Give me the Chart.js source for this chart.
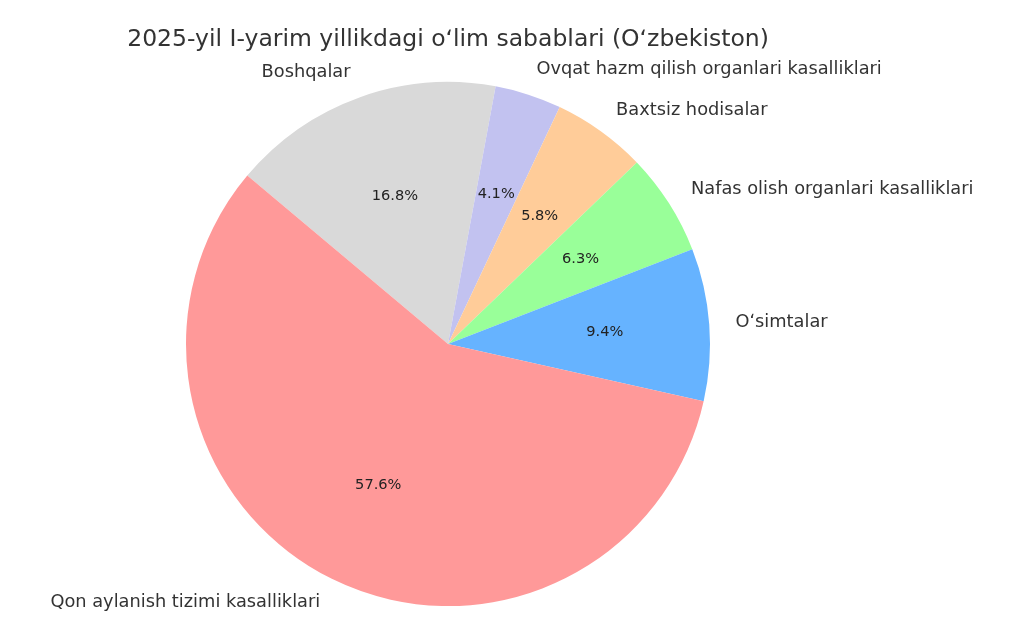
<!DOCTYPE html>
<html><head><meta charset="utf-8">
<script src="https://cdn.jsdelivr.net/npm/chart.js@4"></script>
<style>html,body{margin:0;padding:0;background:#fff}#w{width:1024px;height:630px}</style>
</head><body><div id="w"><canvas id="c"></canvas></div>
<script>
const title = "2025-yil I-yarim yillikdagi oʻlim sabablari (Oʻzbekiston)";
const categories = ["Qon aylanish tizimi kasalliklari","Oʻsimtalar","Nafas olish organlari kasalliklari","Baxtsiz hodisalar","Ovqat hazm qilish organlari kasalliklari","Boshqalar"];
const values = [57.6, 9.4, 6.3, 5.8, 4.1, 16.8];
const colors = ["#ff9999","#66b3ff","#99ff99","#ffcc99","#c2c2f0","#d9d9d9"];
// matplotlib draws counterclockwise from 140°; Chart.js draws clockwise, so reverse.
const rl = categories.slice().reverse(), rv = values.slice().reverse(), rc = colors.slice().reverse();
const labelPlugin = {
  id:'lbl',
  afterDatasetsDraw(chart){
    const ctx = chart.ctx;
    const meta = chart.getDatasetMeta(0);
    ctx.save();
    ctx.fillStyle = '#333';
    ctx.font = '23.5px "DejaVu Sans"';
    ctx.textAlign='center'; ctx.textBaseline='middle';
    ctx.fillText(title, 448, 40);
    meta.data.forEach((arc,i)=>{
      const mid = (arc.startAngle+arc.endAngle)/2;
      const r = arc.outerRadius, cx = arc.x, cy = arc.y;
      const c = Math.cos(mid), s = Math.sin(mid);
      ctx.font = '17.8px "DejaVu Sans"';
      ctx.fillStyle = '#333';
      ctx.textAlign = c >= 0 ? 'left' : 'right';
      ctx.fillText(rl[i], cx + 1.1*r*c, cy + 1.1*r*s);
      ctx.font = '14.6px "DejaVu Sans"';
      ctx.fillStyle = '#222';
      ctx.textAlign = 'center';
      ctx.fillText(rv[i].toFixed(1)+'%', cx + 0.6*r*c, cy + 0.6*r*s);
    });
    ctx.restore();
  }
};
new Chart(document.getElementById('c'), {
  type:'pie',
  data:{labels:rl, datasets:[{data:rv, backgroundColor:rc, borderWidth:0}]},
  options:{
    responsive:true, maintainAspectRatio:false, animation:false, rotation:-50,
    layout:{padding:{left:186,right:314,top:82,bottom:24}},
    plugins:{legend:{display:false}, tooltip:{enabled:false}}
  },
  plugins:[labelPlugin]
});
</script></body></html>
